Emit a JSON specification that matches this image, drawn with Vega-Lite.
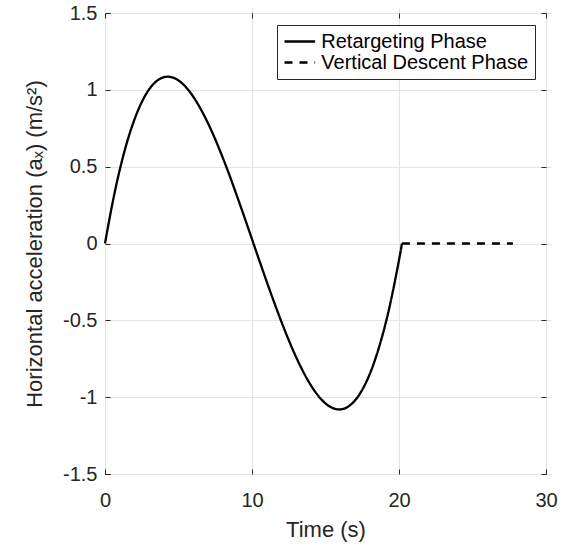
{
  "$schema": "https://vega.github.io/schema/vega-lite/v6.json",
  "width": 441,
  "height": 461,
  "autosize": "none",
  "padding": {"left": 105, "top": 13, "right": 18, "bottom": 74},
  "background": "white",
  "config": {
    "view": {"stroke": "#262626", "strokeWidth": 1},
    "font": "Liberation Sans",
    "axis": {
      "domain": false,
      "gridColor": "#e3e3e3",
      "gridWidth": 1,
      "tickColor": "#262626",
      "tickSize": 5,
      "offset": -5,
      "labelFlush": false,
      "labelColor": "#262626",
      "labelFont": "Liberation Sans",
      "labelFontSize": 20,
      "titleFont": "Liberation Sans",
      "titleFontSize": 22,
      "titleFontWeight": "normal",
      "titleColor": "#262626"
    },
    "legend": {
      "strokeColor": "#262626",
      "fillColor": "white",
      "padding": 6,
      "symbolType": "M-1.7,0H1.7",
      "symbolSize": 324,
      "symbolOffset": 6.3,
      "symbolStrokeColor": "black",
      "symbolStrokeWidth": 2.5,
      "labelFont": "Liberation Sans",
      "labelFontSize": 20,
      "labelColor": "black",
      "labelOffset": 11,
      "labelLimit": 400,
      "rowPadding": 0
    }
  },
  "data": {
    "values": [
      {"t": 0, "a": 0, "phase": "Retargeting Phase"},
      {"t": 0.5, "a": 0.258, "phase": "Retargeting Phase"},
      {"t": 1.0, "a": 0.478, "phase": "Retargeting Phase"},
      {"t": 1.5, "a": 0.66, "phase": "Retargeting Phase"},
      {"t": 2.0, "a": 0.806, "phase": "Retargeting Phase"},
      {"t": 2.5, "a": 0.92, "phase": "Retargeting Phase"},
      {"t": 3.0, "a": 1.003, "phase": "Retargeting Phase"},
      {"t": 3.5, "a": 1.056, "phase": "Retargeting Phase"},
      {"t": 4.0, "a": 1.082, "phase": "Retargeting Phase"},
      {"t": 4.5, "a": 1.083, "phase": "Retargeting Phase"},
      {"t": 5.0, "a": 1.061, "phase": "Retargeting Phase"},
      {"t": 5.5, "a": 1.018, "phase": "Retargeting Phase"},
      {"t": 6.0, "a": 0.956, "phase": "Retargeting Phase"},
      {"t": 6.5, "a": 0.877, "phase": "Retargeting Phase"},
      {"t": 7.0, "a": 0.784, "phase": "Retargeting Phase"},
      {"t": 7.5, "a": 0.678, "phase": "Retargeting Phase"},
      {"t": 8.0, "a": 0.561, "phase": "Retargeting Phase"},
      {"t": 8.5, "a": 0.436, "phase": "Retargeting Phase"},
      {"t": 9.0, "a": 0.303, "phase": "Retargeting Phase"},
      {"t": 9.5, "a": 0.167, "phase": "Retargeting Phase"},
      {"t": 10.0, "a": 0.028, "phase": "Retargeting Phase"},
      {"t": 10.5, "a": -0.111, "phase": "Retargeting Phase"},
      {"t": 11.0, "a": -0.248, "phase": "Retargeting Phase"},
      {"t": 11.5, "a": -0.381, "phase": "Retargeting Phase"},
      {"t": 12.0, "a": -0.509, "phase": "Retargeting Phase"},
      {"t": 12.5, "a": -0.629, "phase": "Retargeting Phase"},
      {"t": 13.0, "a": -0.739, "phase": "Retargeting Phase"},
      {"t": 13.5, "a": -0.837, "phase": "Retargeting Phase"},
      {"t": 14.0, "a": -0.922, "phase": "Retargeting Phase"},
      {"t": 14.5, "a": -0.99, "phase": "Retargeting Phase"},
      {"t": 15.0, "a": -1.041, "phase": "Retargeting Phase"},
      {"t": 15.5, "a": -1.071, "phase": "Retargeting Phase"},
      {"t": 16.0, "a": -1.08, "phase": "Retargeting Phase"},
      {"t": 16.5, "a": -1.064, "phase": "Retargeting Phase"},
      {"t": 17.0, "a": -1.022, "phase": "Retargeting Phase"},
      {"t": 17.5, "a": -0.952, "phase": "Retargeting Phase"},
      {"t": 18.0, "a": -0.852, "phase": "Retargeting Phase"},
      {"t": 18.5, "a": -0.719, "phase": "Retargeting Phase"},
      {"t": 19.0, "a": -0.553, "phase": "Retargeting Phase"},
      {"t": 19.5, "a": -0.349, "phase": "Retargeting Phase"},
      {"t": 20.0, "a": -0.108, "phase": "Retargeting Phase"},
      {"t": 20.2, "a": 0, "phase": "Retargeting Phase"},
      {"t": 20.2, "a": 0, "phase": "Vertical Descent Phase"},
      {"t": 27.75, "a": 0, "phase": "Vertical Descent Phase"}
    ]
  },
  "layer": [
    {
      "mark": {"type": "line", "color": "black", "strokeWidth": 2.3, "interpolate": "natural"},
      "encoding": {
        "x": {
          "field": "t", "type": "quantitative",
          "scale": {"domain": [0, 30], "nice": false},
          "axis": {"title": "Time (s)", "values": [0, 10, 20, 30], "labelPadding": 16, "titlePadding": 9}
        },
        "y": {
          "field": "a", "type": "quantitative",
          "scale": {"domain": [-1.5, 1.5], "nice": false, "zero": false},
          "axis": {
            "title": "Horizontal acceleration (aₓ) (m/s²)",
            "values": [-1.5, -1, -0.5, 0, 0.5, 1, 1.5],
            "labelExpr": "replace(format(datum.value, '~g'), '−', '-')",
            "labelPadding": 8,
            "titlePadding": 16
          }
        },
        "strokeDash": {
          "field": "phase", "type": "nominal",
          "scale": {"domain": ["Retargeting Phase", "Vertical Descent Phase"], "range": [[1, 0], [8, 7]]},
          "legend": {"title": null, "orient": "none", "legendX": 172, "legendY": 12}
        },
        "order": {"field": "t"}
      }
    },
    {
      "mark": {"type": "line", "opacity": 0},
      "encoding": {
        "x": {
          "field": "t", "type": "quantitative",
          "axis": {"orient": "top", "title": null, "labels": false, "grid": false, "values": [0, 10, 20, 30]}
        },
        "y": {
          "field": "a", "type": "quantitative",
          "axis": {"orient": "right", "title": null, "labels": false, "grid": false, "values": [-1.5, -1, -0.5, 0, 0.5, 1, 1.5]}
        },
        "detail": {"field": "phase"}
      }
    }
  ],
  "resolve": {"axis": {"x": "independent", "y": "independent"}}
}
